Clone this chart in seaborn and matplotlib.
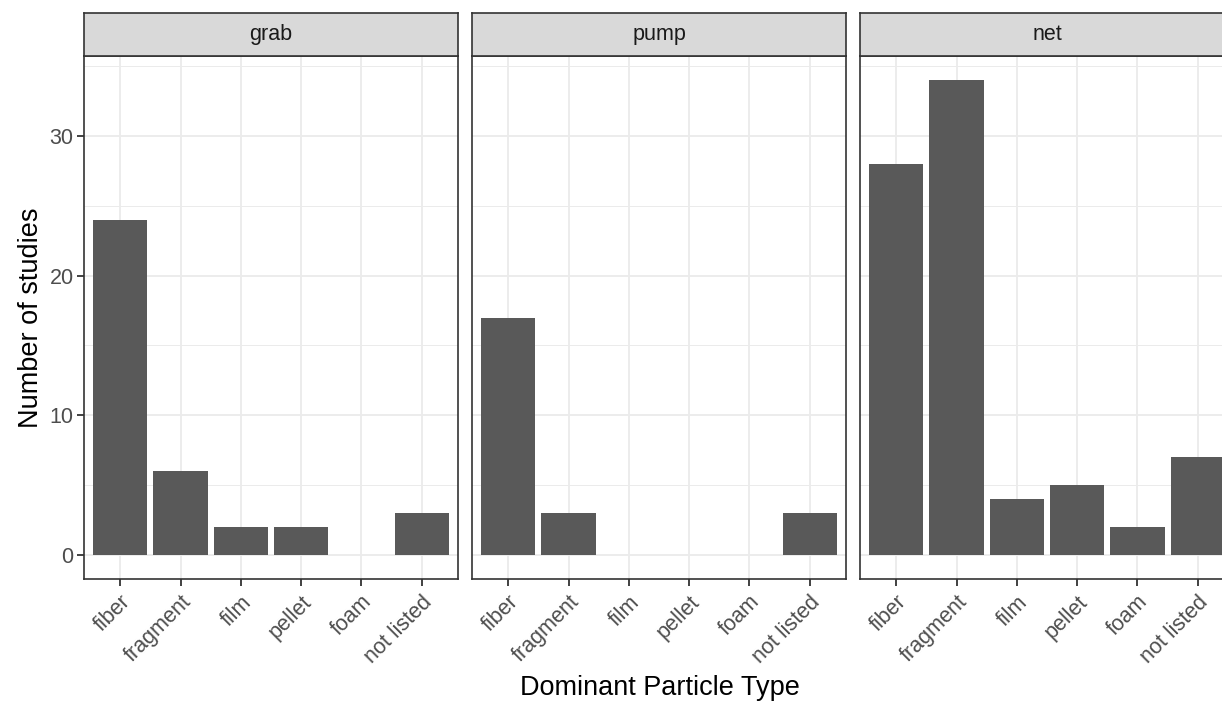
import pandas as pd
import numpy as np
import matplotlib.pyplot as plt
import seaborn as sns

# categorias y conteos
tipos = ["fiber", "fragment", "film", "pellet", "foam", "not listed"]
metodos = ["grab", "pump", "net"]
n_grab = [24, 6, 2, 2, 0, 3]
n_pump = [17, 3, 0, 0, 0, 3]
n_net = [28, 34, 4, 5, 2, 7]

df = pd.DataFrame({
    "metodo": np.repeat(metodos, len(tipos)),
    "tipo": tipos * len(metodos),
    "n": n_grab + n_pump + n_net,
})

sns.set_theme(style="white")
plt.rcParams["font.family"] = ["Liberation Sans", "DejaVu Sans"]

W, H = 1222, 702
fig = plt.figure(figsize=(W / 100, H / 100), dpi=100)

lefts = [84, 472, 860]
pw = 374
top, bottom, strip_h = 56, 579, 43
borde = "#333333"

for i, (m, x0) in enumerate(zip(metodos, lefts)):
    ax = fig.add_axes([x0 / W, 1 - bottom / H, pw / W, (bottom - top) / H])
    sub = df[df["metodo"] == m]
    sns.barplot(data=sub, x="tipo", y="n", order=tipos, color="#595959",
                saturation=1, width=0.9, linewidth=0, ax=ax, zorder=2)
    ax.set_xlim(-0.6, 5.6)
    ax.set_ylim(-1.7, 35.7)
    ax.set_yticks([0, 10, 20, 30])
    ax.set_yticks([5, 15, 25, 35], minor=True)
    ax.grid(True, which="major", color="#EBEBEB", lw=1.3, zorder=0)
    ax.grid(True, which="minor", axis="y", color="#EBEBEB", lw=0.7, zorder=0)
    ax.set_axisbelow(True)
    for s in ax.spines.values():
        s.set_color(borde)
        s.set_linewidth(1.2)
        s.set_zorder(5)
    ax.tick_params(axis="both", which="major", length=5, width=1.3, color=borde,
                   labelsize=15.5, labelcolor="#4D4D4D", pad=2.5,
                   bottom=True, left=(i == 0), labelleft=(i == 0))
    ax.tick_params(axis="x", pad=4)
    ax.tick_params(axis="y", which="minor", length=0)
    ax.set_xticks(range(len(tipos)))
    ax.set_xticklabels(tipos, rotation=45, ha="right", va="top",
                       rotation_mode="anchor")
    ax.set_xlabel("")
    if i == 0:
        ax.set_ylabel("Number of studies", fontsize=19.5, color="black", labelpad=4)
    else:
        ax.set_ylabel("")

    # tira del facet
    st = fig.add_axes([x0 / W, 1 - top / H, pw / W, strip_h / H])
    st.set_facecolor("#D9D9D9")
    st.set_xticks([])
    st.set_yticks([])
    for s in st.spines.values():
        s.set_color(borde)
        s.set_linewidth(1.2)
    st.text(0.5, 0.5, m, ha="center", va="center", fontsize=15.5,
            color="#1A1A1A", transform=st.transAxes)

fig.text(660 / W, 1 - 688 / H, "Dominant Particle Type", ha="center",
         va="center", fontsize=19.5, color="black")

fig.savefig("out.png", dpi=100)
